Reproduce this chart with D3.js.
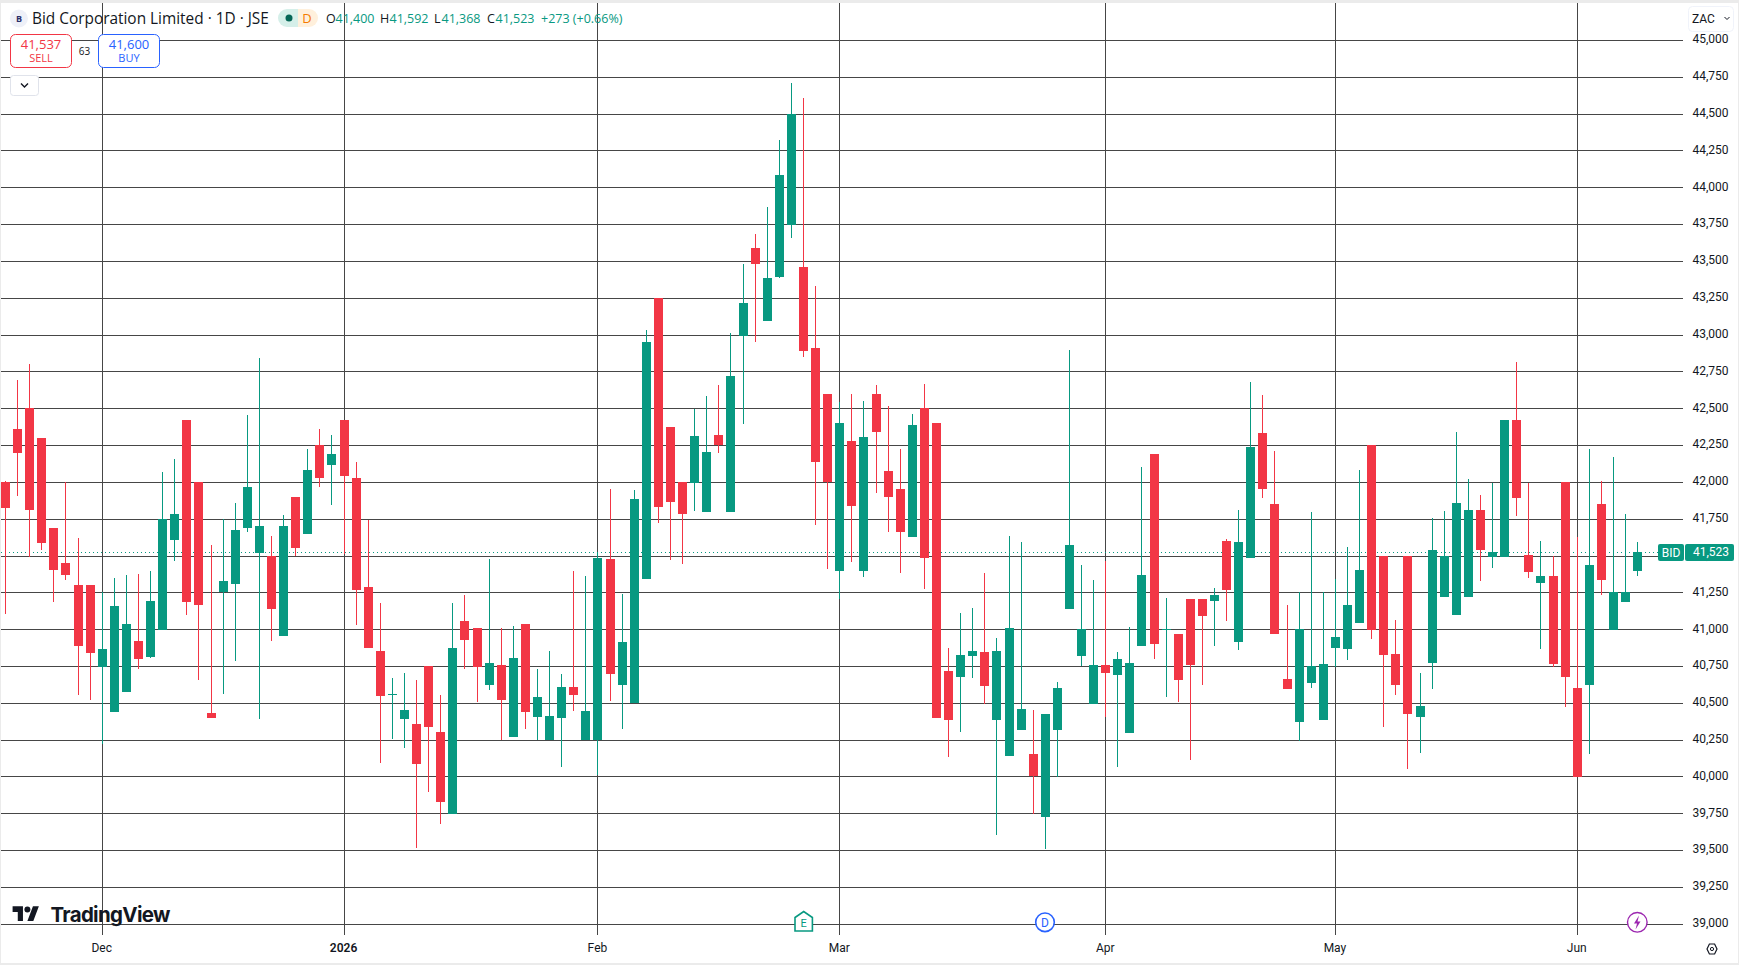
<!DOCTYPE html>
<html>
<head>
<meta charset="utf-8">
<script src="https://cdn.jsdelivr.net/npm/d3@7"></script>
<style>
  html, body { margin: 0; padding: 0; background: #fff; }
  svg { display: block; }
  text { font-family: "Open Sans", Roboto, sans-serif; }
</style>
</head>
<body>
<div id="chart"></div>
<script>
// one value per trading day
const opens = [42000,42359,42499,42297,41686,41449,41299,41299,40747,40443,40582,40919,40819,40998,41614,42420,42000,40430,41261,41315,41695,41526,41494,40962,41897,41655,42248,42123,42420,42026,41286,40851,40557,40398,40355,40749,40301,39749,41056,41007,40626,40756,40274,41035,40409,40256,40402,40609,40256,40256,41474,40626,40507,41349,43251,42372,41998,41998,41800,42319,41800,43000,43586,43100,43396,43754,43457,42907,42595,41402,42277,41402,42595,42074,41951,41634,42499,42399,40715,40684,40826,40844,40392,40147,40324,40152,39733,40324,41145,40826,40496,40756,40697,40303,40894,42189,40998,40967,41204,41204,41200,41598,40921,41492,42331,41849,40661,40378,40643,40392,40880,40874,41050,42248,41494,40831,41494,40412,40779,41227,41105,41227,41809,41494,41494,42420,41503,41322,41360,41996,40600,40629,41849,41000,41193,41400];
const highs = [42005,42691,42800,42297,41686,41996,41618,41299,41249,41347,41367,41374,41394,42067,42155,42420,42000,41571,41745,41856,42454,42841,41632,41775,41897,42223,42359,42318,42420,42135,41743,41177,40668,40702,40654,40749,40555,41179,41230,41007,41474,41005,41021,41035,40726,40853,40698,41393,41360,41523,41953,41237,41947,43028,43251,42372,41998,42495,42581,42656,43014,43478,43681,43865,44320,44707,44605,43328,42595,42542,42595,42549,42656,42514,42223,42460,42664,42399,40871,41109,41143,41381,40939,41632,41591,40453,40423,40641,42895,41435,41333,41464,40844,41014,42101,42189,41211,40967,41204,41204,41279,41612,41809,42678,42589,42209,41163,41249,41795,41249,41340,41557,42080,42248,41494,41062,41494,40702,41754,41802,42338,42019,41910,41994,42420,42814,41994,41598,41494,41996,41627,42223,42005,42168,41781,41592];
const lows = [41111,41913,41496,41546,41193,41342,40561,40527,40224,40443,40582,40738,40813,40998,41471,41105,40663,40405,40568,40792,41668,40398,40928,40962,41505,41655,41974,41852,41514,41037,40880,40100,40263,40201,39522,39903,39685,39749,40733,40509,40593,40256,40274,40328,40256,40256,40072,40449,40256,40014,40516,40328,40507,41349,41726,41477,41449,41807,41800,42200,41800,42402,42957,43100,43389,43663,42855,41714,41416,41209,41463,41363,41928,41665,41390,41634,41281,40405,40140,40310,40677,40496,39611,40147,40324,39749,39516,40005,41145,40758,40496,40412,40072,40303,40894,40806,40548,40514,40120,40629,40894,41064,40867,41492,41899,40976,40602,40247,40609,40392,40747,40799,41050,40942,40344,40561,40059,40167,40602,41227,41105,41227,41335,41424,41494,41777,41356,40874,40751,40480,40000,40161,41240,41000,41193,41368];
const closes = [41831,42205,41818,41593,41410,41376,40894,40847,40865,41157,41034,40806,41191,41745,41781,41193,41172,40405,41326,41673,41965,41700,41145,41700,41560,42080,42035,42189,42048,41274,40880,40555,40562,40450,40093,40344,39835,40872,40930,40747,40772,40523,40805,40444,40542,40407,40609,40558,40442,41481,40700,40914,41886,42947,41835,41867,41786,42312,42202,42260,42716,43213,43487,43383,44082,44501,42896,42144,42009,42400,41842,42305,42342,41902,41668,42386,41492,40405,40392,40824,40851,40622,40851,41007,40457,40011,40423,40600,41571,40998,40756,40711,40797,40770,41367,40908,41002,40663,40765,41098,41231,41274,41591,42236,41960,40976,40602,40998,40749,40763,40946,41163,41401,40998,40833,40629,40432,40478,41537,41494,41856,41809,41546,41523,42420,41899,41397,41360,40772,40684,40000,41435,41342,41249,41249,41523];

const yTicks = [39000,39250,39500,39750,40000,40250,40500,40750,41000,41250,41500,41750,42000,42250,42500,42750,43000,43250,43500,43750,44000,44250,44500,44750,45000];
const monthBars = [8,28,49,69,91,110,130];
const monthLabels = ["Dec","2026","Feb","Mar","Apr","May","Jun"];
const lastPrice = 41523;

const width = 1739;
const height = 968;
const paneRight = 1683;
const paneBottom = 935;

const upColor = "#089981";
const downColor = "#f23645";
const gridColor = "#464646";
const textColor = "#131722";

const bars = opens.map((o, i) => ({ i, o, h: highs[i], l: lows[i], c: closes[i] }));

const svg = d3.select("#chart").append("svg")
  .attr("width", width)
  .attr("height", height)
  .attr("viewBox", [0, 0, width, height]);

// scales
const x = d3.scaleLinear().domain([0, 135]).range([5.5, 1637.7]);
const y = d3.scaleLinear().domain([39000, 45000]).range([924.2, 40.52]);
const colX = (i) => Math.floor(x(i));
const rowY = (v) => Math.floor(y(v));

// frame
svg.append("rect").attr("x", 0).attr("y", 0).attr("width", width).attr("height", 3).attr("fill", "#ebebeb");
svg.append("rect").attr("x", 0).attr("y", 963).attr("width", width).attr("height", 2).attr("fill", "#ebebeb");
svg.append("rect").attr("x", 0).attr("y", 0).attr("width", 1).attr("height", 965).attr("fill", "#ebebeb");
svg.append("rect").attr("x", 1738).attr("y", 0).attr("width", 1).attr("height", 965).attr("fill", "#ebebeb");

// grid
const grid = svg.append("g").attr("shape-rendering", "crispEdges");
grid.selectAll("line.h")
  .data(yTicks)
  .join("line")
  .attr("class", "h")
  .attr("x1", 1)
  .attr("x2", paneRight)
  .attr("y1", (d) => rowY(d) + 0.5)
  .attr("y2", (d) => rowY(d) + 0.5)
  .attr("stroke", gridColor);
grid.selectAll("line.v")
  .data(monthBars)
  .join("line")
  .attr("class", "v")
  .attr("x1", (d) => colX(d) + 0.5)
  .attr("x2", (d) => colX(d) + 0.5)
  .attr("y1", 3)
  .attr("y2", paneBottom)
  .attr("stroke", gridColor);

// dotted line of the last price
svg.append("line")
  .attr("x1", 1)
  .attr("x2", 1658)
  .attr("y1", rowY(lastPrice) + 0.5)
  .attr("y2", rowY(lastPrice) + 0.5)
  .attr("stroke", upColor)
  .attr("stroke-dasharray", "1 3")
  .attr("shape-rendering", "crispEdges");

// candles
const candles = svg.append("g").attr("shape-rendering", "crispEdges");
const colorOf = (d) => (d.c >= d.o ? upColor : downColor);
candles.selectAll("rect.wick")
  .data(bars)
  .join("rect")
  .attr("class", "wick")
  .attr("x", (d) => colX(d.i))
  .attr("width", 1)
  .attr("y", (d) => rowY(d.h))
  .attr("height", (d) => Math.max(1, rowY(d.l) - rowY(d.h) + 1))
  .attr("fill", colorOf);
candles.selectAll("rect.body")
  .data(bars)
  .join("rect")
  .attr("class", "body")
  .attr("x", (d) => colX(d.i) - 4)
  .attr("width", 9)
  .attr("y", (d) => rowY(Math.max(d.o, d.c)))
  .attr("height", (d) => Math.max(1, rowY(Math.min(d.o, d.c)) - rowY(Math.max(d.o, d.c)) + 1))
  .attr("fill", colorOf);

// price axis
const yAxis = svg.append("g")
  .attr("transform", `translate(1728.5, -1)`)
  .call(d3.axisLeft(y).tickValues(yTicks).tickSize(0).tickPadding(0).tickFormat(d3.format(",")));
yAxis.select(".domain").remove();
yAxis.selectAll("text")
  .attr("dy", "0.28em")
  .style("font-size", "12px")
  .attr("fill", textColor)
  .style("font-family", "Roboto, sans-serif");

// time axis
const xAxis = svg.append("g")
  .attr("transform", `translate(-1, 943)`)
  .call(d3.axisBottom(x).tickValues(monthBars).tickSize(0).tickPadding(0).tickFormat((d, i) => monthLabels[i]));
xAxis.select(".domain").remove();
xAxis.selectAll("text")
  .style("font-size", "12px")
  .attr("fill", textColor)
  .style("font-family", "Roboto, sans-serif")
  .style("font-weight", (d) => (d === 28 ? 600 : 400));

// last price tag
const tag = svg.append("g");
tag.append("rect").attr("x", 1658).attr("y", 544).attr("width", 26).attr("height", 17).attr("rx", 2).attr("fill", upColor);
tag.append("rect").attr("x", 1685).attr("y", 544).attr("width", 49).attr("height", 17).attr("rx", 2).attr("fill", upColor);
tag.append("text").attr("x", 1671).attr("y", 556.5).attr("text-anchor", "middle").attr("fill", "#fff")
  .style("font-size", "12px").style("font-family", "Roboto, sans-serif").text("BID");
tag.append("text").attr("x", 1729).attr("y", 556).attr("text-anchor", "end").attr("fill", "#fff")
  .style("font-size", "12px").style("font-family", "Roboto, sans-serif").text(d3.format(",")(lastPrice));

// currency button
svg.append("rect").attr("x", 1688.5).attr("y", 6.5).attr("width", 45).attr("height", 25).attr("rx", 4)
  .attr("fill", "#fff").attr("stroke", "#f0f3fa");
svg.append("text").attr("x", 1692).attr("y", 23).attr("fill", textColor)
  .style("font-size", "12px").style("font-family", "Roboto, sans-serif").text("ZAC");
svg.append("path").attr("d", "M1724.5 17l2.5 2.5 2.5-2.5").attr("fill", "none").attr("stroke", textColor);

// legend
const legend = svg.append("g").style("font-family", "Roboto, sans-serif");
legend.append("circle").attr("cx", 18.9).attr("cy", 18.5).attr("r", 9).attr("fill", "#eef0f8");
legend.append("text").attr("x", 18.9).attr("y", 21.5).attr("text-anchor", "middle").attr("fill", "#2a2e6a")
  .style("font-size", "9px").style("font-weight", 700).text("B");
legend.append("text").attr("x", 32).attr("y", 23.5).attr("fill", textColor)
  .style("font-size", "15.4px").text("Bid Corporation Limited · 1D · JSE");

legend.append("path").attr("d", "M298 9h-11a9 9 0 0 0 0 18h11z").attr("fill", "#d5efe9");
legend.append("path").attr("d", "M298 9h11a9 9 0 0 1 0 18h-11z").attr("fill", "#fff0dc");
legend.append("circle").attr("cx", 289).attr("cy", 18).attr("r", 3.5).attr("fill", "#056656");
legend.append("text").attr("x", 307).attr("y", 22.5).attr("text-anchor", "middle").attr("fill", "#f57c00")
  .style("font-size", "13px").text("D");

const ohlc = [
  { x: 326, t: "O", c: textColor }, { x: 335.5, t: "41,400", c: upColor },
  { x: 380, t: "H", c: textColor }, { x: 389.5, t: "41,592", c: upColor },
  { x: 434, t: "L", c: textColor }, { x: 441.5, t: "41,368", c: upColor },
  { x: 487, t: "C", c: textColor }, { x: 495.5, t: "41,523", c: upColor },
  { x: 541, t: "+273 (+0.66%)", c: upColor },
];
legend.selectAll("text.ohlc")
  .data(ohlc)
  .join("text")
  .attr("class", "ohlc")
  .attr("x", (d) => d.x)
  .attr("y", 23)
  .attr("fill", (d) => d.c)
  .style("font-size", "12.5px")
  .text((d) => d.t);

// sell / buy buttons
const buttons = [
  { x: 10, price: "41,537", label: "SELL", c: "#f23645" },
  { x: 98, price: "41,600", label: "BUY", c: "#2962ff" },
];
const btn = svg.append("g").style("font-family", "Roboto, sans-serif");
btn.selectAll("rect")
  .data(buttons)
  .join("rect")
  .attr("x", (d) => d.x + 0.5)
  .attr("y", 34.5)
  .attr("width", 61)
  .attr("height", 33)
  .attr("rx", 5)
  .attr("fill", "#fff")
  .attr("stroke", (d) => d.c);
btn.selectAll("text.price")
  .data(buttons)
  .join("text")
  .attr("class", "price")
  .attr("x", (d) => d.x + 31)
  .attr("y", 48.5)
  .attr("text-anchor", "middle")
  .attr("fill", (d) => d.c)
  .style("font-size", "13px")
  .style("font-weight", 500)
  .text((d) => d.price);
btn.selectAll("text.label")
  .data(buttons)
  .join("text")
  .attr("class", "label")
  .attr("x", (d) => d.x + 31)
  .attr("y", 62)
  .attr("text-anchor", "middle")
  .attr("fill", (d) => d.c)
  .style("font-size", "11px")
  .text((d) => d.label);
btn.append("rect").attr("x", 78).attr("y", 44).attr("width", 13).attr("height", 14).attr("fill", "#fff");
btn.append("text").attr("x", 84.5).attr("y", 54.5).attr("text-anchor", "middle").attr("fill", textColor)
  .style("font-size", "10px").text("63");

// collapse button
svg.append("rect").attr("x", 10.5).attr("y", 75.5).attr("width", 28).attr("height", 20).attr("rx", 3)
  .attr("fill", "#fff").attr("stroke", "#e0e3eb");
svg.append("path").attr("d", "M21 83.5l3.5 3.5 3.5-3.5").attr("fill", "none").attr("stroke", textColor).attr("stroke-width", 1.4);

// logo
const logo = svg.append("g");
logo.append("path")
  .attr("transform", "translate(12.6, 903) scale(0.74, 0.82)")
  .attr("d", "M14 22H7V11H0V4h14v18zM28 22h-8l7.5-18h8L28 22z")
  .attr("fill", "#131722");
logo.append("circle").attr("cx", 27.4).attr("cy", 909.6).attr("r", 3).attr("fill", "#131722");
logo.append("text").attr("x", 50.5).attr("y", 921.5).attr("fill", "#131722")
  .style("font-family", "Inter, Roboto, sans-serif")
  .style("font-size", "20.5px").style("font-weight", 700).style("letter-spacing", "-0.7px").text("TradingView");

// event markers
svg.append("path")
  .attr("d", "M795 931V917.5L803.7 911.5L812.4 917.5V931Z")
  .attr("fill", "#fff").attr("stroke", upColor).attr("stroke-width", 1.6);
svg.append("text").attr("x", 803.7).attr("y", 927).attr("text-anchor", "middle").attr("fill", upColor)
  .style("font-size", "11px").style("font-family", "Roboto, sans-serif").text("E");
svg.append("circle").attr("cx", 1045).attr("cy", 922.3).attr("r", 9.3)
  .attr("fill", "#fff").attr("stroke", "#2962ff").attr("stroke-width", 1.6);
svg.append("text").attr("x", 1045).attr("y", 926.5).attr("text-anchor", "middle").attr("fill", "#2962ff")
  .style("font-size", "12px").style("font-family", "Roboto, sans-serif").text("D");
svg.append("circle").attr("cx", 1637.3).attr("cy", 922.3).attr("r", 9.8)
  .attr("fill", "#fff").attr("stroke", "#9c27b0").attr("stroke-width", 1.4);
svg.append("path").attr("d", "M1639 915.5l-5 8h3l-1.5 6 5-8h-3z").attr("fill", "#9c27b0");

// settings icon
svg.append("path")
  .attr("d", "M1707 949l2.4-5h5.2l2.4 5-2.4 5h-5.2z")
  .attr("fill", "none").attr("stroke", textColor).attr("stroke-width", 1.2);
svg.append("circle").attr("cx", 1712).attr("cy", 949).attr("r", 1.6)
  .attr("fill", "none").attr("stroke", textColor);
</script>
</body>
</html>
